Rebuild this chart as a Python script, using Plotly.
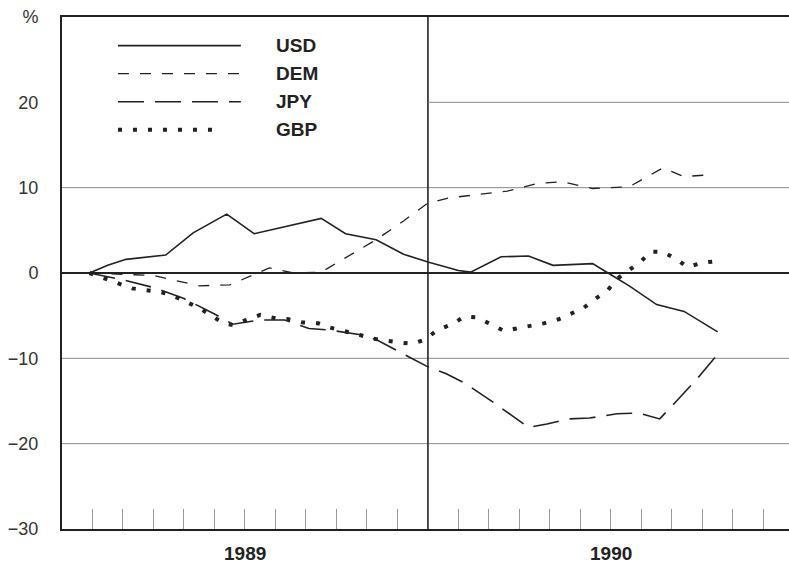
import plotly.graph_objects as go

# months since 1 Jan 1989 (0..24)
usd_x = [0.9, 1.5, 2.1, 3.4, 4.3, 5.4, 6.3, 8.5, 9.3, 10.3, 11.2, 12.0, 13.0, 13.4,
         14.4, 15.3, 16.1, 17.4, 18.0, 18.6, 19.5, 20.4, 21.5]
usd = [0.0, 0.9, 1.6, 2.1, 4.7, 6.9, 4.6, 6.4, 4.6, 3.9, 2.2, 1.3, 0.3, 0.1,
       1.9, 2.0, 0.9, 1.1, -0.2, -1.5, -3.7, -4.5, -6.9]

dem_x = [0.9, 3.0, 4.5, 5.5, 6.8, 7.6, 8.5, 9.5, 10.3, 11.2, 12.0, 12.7, 13.7,
         14.6, 15.6, 16.4, 17.4, 18.6, 19.7, 20.4, 21.2]
dem = [0.0, -0.3, -1.5, -1.4, 0.6, 0.0, 0.1, 2.2, 3.9, 6.1, 8.2, 8.8, 9.2,
       9.6, 10.5, 10.7, 9.9, 10.1, 12.3, 11.3, 11.5]

jpy_x = [0.9, 2.0, 3.0, 4.0, 5.0, 5.6, 6.5, 7.3, 8.1, 8.8, 9.9, 10.3, 11.2, 12.0,
         12.6, 13.2, 14.0, 15.3, 15.9, 16.6, 17.3, 18.2, 18.9, 19.6, 20.1, 20.8, 21.6]
jpy = [0.0, -0.8, -1.7, -3.0, -4.8, -6.0, -5.5, -5.5, -6.5, -6.7, -7.3, -7.8, -9.5, -11.0,
       -11.8, -12.9, -14.8, -18.1, -17.7, -17.1, -17.0, -16.5, -16.4, -17.1, -15.2, -12.5, -9.1]

gbp_x = [0.9, 1.8, 2.3, 2.7, 3.2, 3.6, 4.1, 4.5, 4.9, 5.3, 5.6, 6.1, 6.5, 7.0, 7.4,
         7.9, 8.4, 8.8, 9.3, 9.8, 10.2, 10.7, 11.2, 11.5, 11.9, 12.3, 12.8, 13.2, 13.6,
         14.0, 14.5, 14.9, 15.3, 15.8, 16.3, 16.7, 17.1, 17.5, 17.9, 18.2, 18.6, 19.0,
         19.3, 19.7, 20.2, 20.5, 21.0, 21.5]
gbp = [0.0, -1.2, -1.8, -2.0, -2.2, -2.6, -3.5, -4.1, -5.0, -5.9, -6.1, -5.5, -4.9, -5.3, -5.4,
       -5.8, -5.9, -6.4, -6.8, -7.3, -7.7, -8.0, -8.2, -8.3, -7.8, -6.7, -6.0, -5.1, -5.2,
       -5.9, -6.8, -6.5, -6.2, -5.9, -5.4, -4.7, -4.1, -3.0, -2.0, -0.7, 0.3, 1.4,
       2.5, 2.5, 1.5, 0.7, 1.2, 1.4]

y_ticks = [-30, -20, -10, 0, 10, 20, 30]
y_tick_text = ["\u221230", "\u221220", "\u221210", "0", "10", "20", "%"]
month_ticks = [m for m in range(1, 24) if m != 12]
years = ["1989", "1990"]
grid_full = [10, -10, -20]
grid_1990 = [20]

ink = "#222"
font = "Liberation Sans, Arial, sans-serif"

styles = {
    "USD": dict(color=ink, width=1.6, dash="solid"),
    "DEM": dict(color=ink, width=1.3, dash="11px,11px"),
    "JPY": dict(color=ink, width=1.6, dash="26px,11px"),
    "GBP": dict(color=ink, width=4, dash="4px,11px"),
}

fig = go.Figure()
for name, xs, ys in [("USD", usd_x, usd), ("DEM", dem_x, dem),
                     ("JPY", jpy_x, jpy), ("GBP", gbp_x, gbp)]:
    fig.add_trace(go.Scatter(x=xs, y=ys, mode="lines", name=name,
                             line=styles[name], showlegend=False))

shapes = []
for v in grid_full:
    shapes.append(dict(type="line", xref="paper", x0=0, x1=1, yref="y", y0=v, y1=v,
                       line=dict(color="#8a8a8a", width=1), layer="below"))
for v in grid_1990:
    shapes.append(dict(type="line", xref="x", x0=12, x1=24, yref="y", y0=v, y1=v,
                       line=dict(color="#8a8a8a", width=1), layer="below"))
# divider between the two years
shapes.append(dict(type="line", xref="x", x0=12, x1=12, yref="paper", y0=0, y1=1,
                   line=dict(color=ink, width=1.6), layer="below"))

# hand-made legend (long samples like the original)
annotations = []
legend_end = {"USD": 0.246, "DEM": 0.246, "JPY": 0.246, "GBP": 0.21}
for i, name in enumerate(["USD", "DEM", "JPY", "GBP"]):
    yp = 0.944 - i * 0.0547
    shapes.append(dict(type="line", xref="paper", yref="paper",
                       x0=0.077, x1=legend_end[name], y0=yp, y1=yp, line=styles[name]))
    annotations.append(dict(text="<b>%s</b>" % name, xref="paper", yref="paper",
                            x=0.292, y=yp, xanchor="left", yanchor="middle",
                            showarrow=False, font=dict(size=19, color=ink, family=font)))

for i, yr in enumerate(years):
    annotations.append(dict(text="<b>%s</b>" % yr, xref="x", yref="paper",
                            x=6 + 12 * i, y=0, yshift=-24, yanchor="middle",
                            showarrow=False, font=dict(size=19, color=ink, family=font)))

fig.update_layout(
    width=789, height=568,
    margin=dict(l=62, r=0, t=17, b=39),
    paper_bgcolor="white", plot_bgcolor="white",
    font=dict(family=font, size=18, color="#333"),
    shapes=shapes, annotations=annotations,
    xaxis=dict(range=[0, 23.84], showgrid=False, zeroline=False,
               showline=True, linecolor=ink, linewidth=2, mirror=True,
               tickvals=month_ticks, ticktext=[""] * len(month_ticks),
               ticks="inside", ticklen=20, tickwidth=1, tickcolor="#9a9a9a"),
    yaxis=dict(range=[-30, 30], showgrid=False, zeroline=True,
               zerolinecolor=ink, zerolinewidth=2,
               showline=True, linecolor=ink, linewidth=2,
               tickvals=y_ticks, ticktext=y_tick_text, ticks="",
               ticklabelstandoff=18),
)

fig.write_html("out.html", config={"displayModeBar": False},
               post_script="document.body.style.margin='0';")
